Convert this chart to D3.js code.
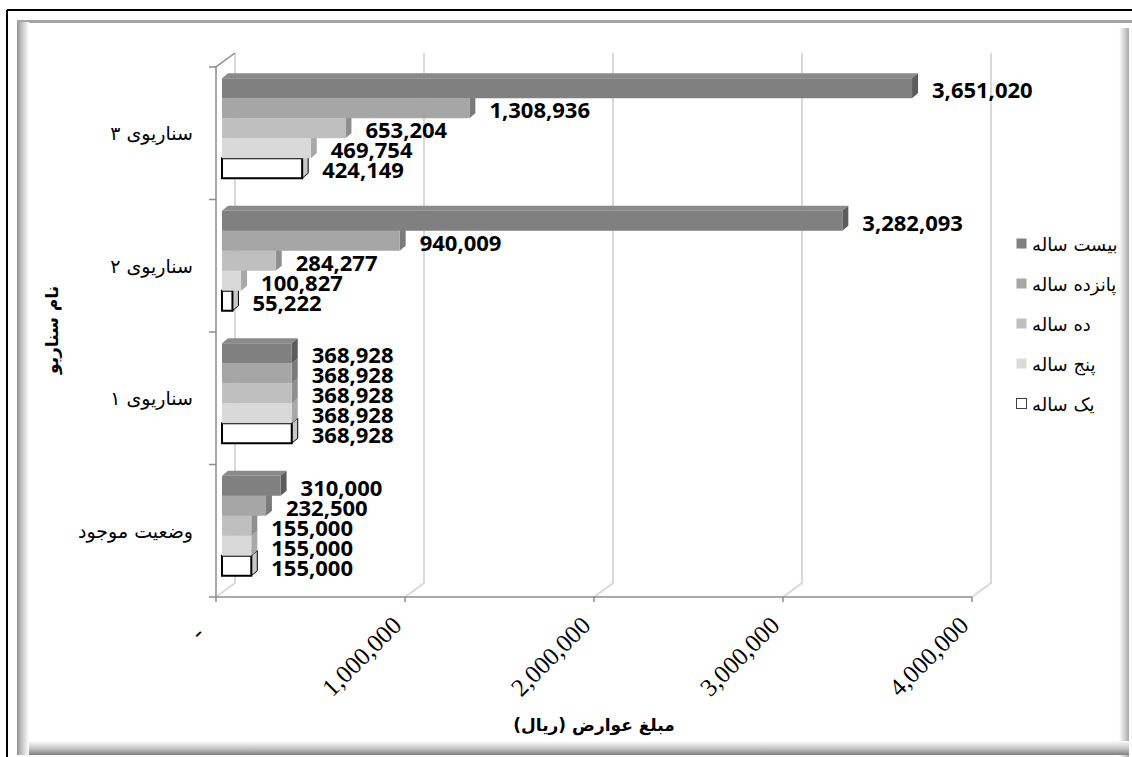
<!doctype html>
<html>
  <head>
    <meta charset="utf-8">
    <script src="https://cdn.jsdelivr.net/npm/d3@7/dist/d3.min.js"></script>
    <style>
      body { margin: 0; background: #fff; }
      svg { display: block; }
    </style>
  </head>
  <body>
    <svg width="1132" height="757"></svg>

    <script type="text/javascript">

        // data
        var categories = ["وضعیت موجود", "سناریوی ۱", "سناریوی ۲", "سناریوی ۳"];
        var seriesNames = ["یک ساله", "پنج ساله", "ده ساله", "پانزده ساله", "بیست ساله"];
        var oneYear = [155000, 368928, 55222, 424149];
        var fiveYear = [155000, 368928, 100827, 469754];
        var tenYear = [155000, 368928, 284277, 653204];
        var fifteenYear = [232500, 368928, 940009, 1308936];
        var twentyYear = [310000, 368928, 3282093, 3651020];
        var xTicks = [0, 1000000, 2000000, 3000000, 4000000];

        var seriesValues = [oneYear, fiveYear, tenYear, fifteenYear, twentyYear];
        var fronts = ["#ffffff", "#d9d9d9", "#bfbfbf", "#a6a6a6", "#808080"];
        var sides = ["#c8c8c8", "#a8a8a8", "#8f8f8f", "#7a7a7a", "#5c5c5c"];
        var tops = ["#f0f0f0", "#e3e3e3", "#c9c9c9", "#b0b0b0", "#8a8a8a"];

        var serif = "Liberation Serif, DejaVu Serif, serif";
        var persian = "DejaVu Sans, sans-serif";

        var svg = d3.select("svg");
        var defs = svg.append("defs");

        function grad(id, x1, y1, x2, y2, stops) {
            var g = defs.append("linearGradient").attr("id", id)
                .attr("x1", x1).attr("y1", y1).attr("x2", x2).attr("y2", y2);
            stops.forEach(s => g.append("stop").attr("offset", s[0]).attr("stop-color", s[1]));
        }
        grad("gl", 0, 0, 1, 0, [[0, "#8c8c8c"], [0.25, "#b5b5b5"], [1, "#ffffff"]]);
        grad("gb", 0, 0, 0, 1, [[0, "#ffffff"], [0.6, "#bdbdbd"], [1, "#7d7d7d"]]);
        grad("gr", 0, 0, 1, 0, [[0, "#ffffff"], [0.5, "#d6d6d6"], [1, "#a8a8a8"]]);

        // outer black frame (cropped at right/bottom)
        svg.append("line").attr("x1", 7).attr("y1", 10).attr("x2", 1132).attr("y2", 10)
            .attr("stroke", "#000").attr("stroke-width", 2);
        svg.append("line").attr("x1", 7).attr("y1", 10).attr("x2", 7).attr("y2", 757)
            .attr("stroke", "#000").attr("stroke-width", 2);

        // chart area with bevel
        svg.append("rect").attr("x", 17).attr("y", 20).attr("width", 1115).attr("height", 737).attr("fill", "#fff");
        svg.append("rect").attr("x", 17).attr("y", 20).attr("width", 1115).attr("height", 3).attr("fill", "#a6a6a6");
        svg.append("rect").attr("x", 1119).attr("y", 28).attr("width", 10).attr("height", 729).attr("fill", "url(#gr)");
        svg.append("rect").attr("x", 17).attr("y", 741).attr("width", 1112).attr("height", 14).attr("fill", "url(#gb)");
        svg.append("rect").attr("x", 17).attr("y", 22).attr("width", 12).attr("height", 733).attr("fill", "url(#gl)");

        var depthX = 19, depthY = 14;

        var x = d3.scaleLinear().domain([0, 4000000]).range([216, 972]);
        var y = d3.scaleBand().domain(categories.slice().reverse()).range([67, 597]);
        var inner = d3.scaleBand().domain(d3.range(seriesNames.length).reverse()).range([0, 100]);

        var wall = svg.append("g");

        // back wall gridlines + floor diagonals
        xTicks.forEach(function(t) {
            wall.append("polyline")
                .attr("points", [[x(t) + depthX, 53], [x(t) + depthX, 597 - depthY], [x(t), 597]].join(" "))
                .attr("fill", "none").attr("stroke", "#d9d9d9").attr("stroke-width", 2);
        });
        // left wall
        wall.append("polyline")
            .attr("points", [[216, 597], [216, 67], [216 + depthX, 53]].join(" "))
            .attr("fill", "none").attr("stroke", "#8c8c8c").attr("stroke-width", 1.5);
        // floor front edge
        wall.append("line").attr("x1", 216).attr("y1", 597).attr("x2", x(4000000)).attr("y2", 597)
            .attr("stroke", "#8c8c8c").attr("stroke-width", 1.5);

        // category ticks
        var bounds = y.domain().map(d => y(d)).concat([597]);
        bounds.forEach(function(b) {
            wall.append("line").attr("x1", 209).attr("x2", 216).attr("y1", b).attr("y2", b)
                .attr("stroke", "#8c8c8c").attr("stroke-width", 1.5);
        });
        // value ticks
        xTicks.forEach(function(t) {
            wall.append("line").attr("x1", x(t)).attr("x2", x(t)).attr("y1", 597).attr("y2", 602)
                .attr("stroke", "#8c8c8c").attr("stroke-width", 1.5);
        });

        // bars
        var dx = 6, dy = 5, off = 6;
        var bars = svg.append("g");
        categories.forEach(function(cat, ci) {
            var top0 = y(cat) + (y.bandwidth() - 100) / 2 - 5;
            // draw bottom series first so upper bars cover their top faces
            d3.range(seriesNames.length).forEach(function(si) {
                var v = seriesValues[si][ci];
                var x0 = x(0) + off, x1 = x(v) + off;
                var y0 = top0 + inner(si), y1 = y0 + inner.bandwidth();
                var stroke = si === 0 ? "#000" : "none";
                var g = bars.append("g");
                g.append("polygon")
                    .attr("points", [[x0, y0], [x0 + dx, y0 - dy], [x1 + dx, y0 - dy], [x1, y0]].join(" "))
                    .attr("fill", tops[si]).attr("stroke", stroke).attr("stroke-width", 1);
                g.append("polygon")
                    .attr("points", [[x1, y0], [x1 + dx, y0 - dy], [x1 + dx, y1 - dy], [x1, y1]].join(" "))
                    .attr("fill", sides[si]).attr("stroke", stroke).attr("stroke-width", 1);
                g.append("rect")
                    .attr("x", x0).attr("y", y0).attr("width", x1 - x0).attr("height", y1 - y0)
                    .attr("fill", fronts[si]).attr("stroke", stroke).attr("stroke-width", 2);
            });
        });

        // value labels
        var fmt = d3.format(",");
        categories.forEach(function(cat, ci) {
            var top0 = y(cat) + (y.bandwidth() - 100) / 2 - 5;
            d3.range(seriesNames.length).forEach(function(si) {
                var v = seriesValues[si][ci];
                svg.append("text")
                    .attr("x", x(v) + off + 20)
                    .attr("y", top0 + inner(si) + inner.bandwidth() / 2 + 1)
                    .attr("dominant-baseline", "central")
                    .attr("font-family", "Open Sans, sans-serif")
                    .attr("font-weight", "bold")
                    .attr("font-size", 22)
                    .attr("fill", "#000")
                    .text(fmt(v));
            });
        });

        // category labels
        categories.forEach(function(cat) {
            svg.append("text")
                .attr("x", 193).attr("y", y(cat) + y.bandwidth() / 2)
                .attr("text-anchor", "end").attr("dominant-baseline", "central")
                .attr("font-family", persian).attr("font-size", 19)
                .text(cat);
        });

        // value tick labels
        xTicks.forEach(function(t) {
            svg.append("text")
                .attr("transform", `translate(${x(t) - 2}, ${627}) rotate(-45)`)
                .attr("text-anchor", "end")
                .attr("dx", t === 0 ? -12 : 0)
                .attr("font-family", serif)
                .attr("font-size", 25)
                .text(t === 0 ? "-" : fmt(t));
        });

        // axis titles
        svg.append("text")
            .attr("x", 594).attr("y", 725)
            .attr("text-anchor", "middle").attr("dominant-baseline", "central")
            .attr("font-family", persian).attr("font-weight", "bold").attr("font-size", 17)
            .text("مبلغ عوارض (ریال)");
        svg.append("text")
            .attr("transform", "translate(52, 330) rotate(-90)")
            .attr("text-anchor", "middle").attr("dominant-baseline", "central")
            .attr("font-family", persian).attr("font-weight", "bold").attr("font-size", 17)
            .text("نام سناریو");

        // legend
        var legendOrder = d3.range(seriesNames.length).reverse();
        legendOrder.forEach(function(si, i) {
            var ly = 244 + i * 40;
            svg.append("rect")
                .attr("x", 1016.5).attr("y", ly - 5.5).attr("width", 10).attr("height", 10)
                .attr("fill", fronts[si])
                .attr("stroke", si === 0 ? "#404040" : "none").attr("stroke-width", 1);
            svg.append("text")
                .attr("x", 1032).attr("y", ly)
                .attr("dominant-baseline", "central")
                .attr("font-family", persian).attr("font-size", 18)
                .text(seriesNames[si]);
        });

    </script>
  </body>
</html>
